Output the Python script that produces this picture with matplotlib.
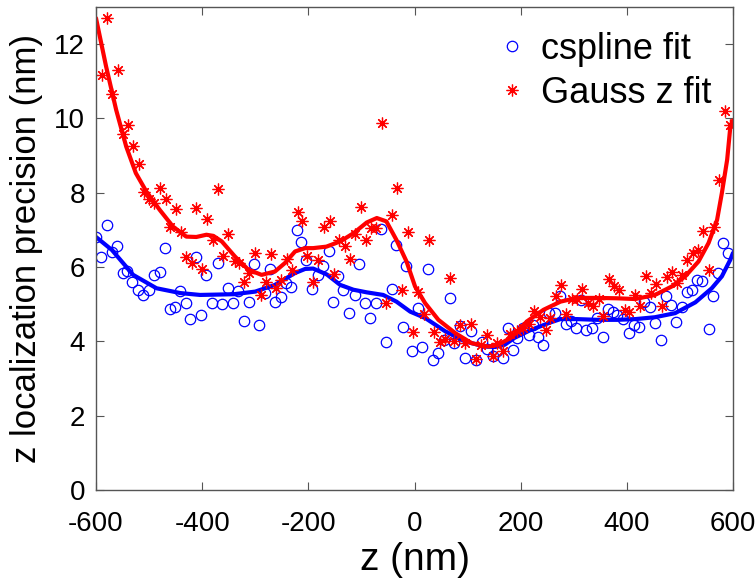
import matplotlib
matplotlib.use("Agg")
import matplotlib.pyplot as plt

plt.rcParams['font.family'] = ['Liberation Sans', 'DejaVu Sans']
plt.rcParams['axes.unicode_minus'] = False

# cspline fit (blue circles)
z_cs = [-600, -591, -580, -570, -560, -550, -541, -532, -520, -511, -500, -491, -479, -470,
        -461, -451, -442, -431, -422, -411, -403, -392, -382, -371, -362, -352, -341, -332,
        -322, -312, -302, -292, -282, -272, -263, -252, -243, -233, -222, -213, -204, -194,
        -181, -173, -162, -153, -144, -134, -123, -113, -104, -93, -83, -73, -63, -54, -43,
        -34, -22, -16, -5, 6, 15, 25, 35, 45, 56, 66, 75, 86, 95, 106, 116, 128, 137, 147,
        156, 166, 176, 185, 194, 205, 215, 224, 233, 243, 254, 265, 274, 285, 295, 304, 314,
        324, 334, 344, 355, 364, 373, 381, 393, 404, 414, 423, 433, 444, 453, 464, 473, 483,
        493, 503, 513, 522, 532, 542, 554, 562, 572, 582, 591]
p_cs = [6.82, 6.28, 7.13, 6.40, 6.58, 5.84, 5.89, 5.61, 5.39, 5.24, 5.39, 5.80, 5.86, 6.51,
        4.88, 4.93, 5.36, 5.02, 4.60, 6.28, 4.70, 5.80, 5.04, 6.10, 5.00, 5.44, 5.02, 5.35,
        4.55, 5.06, 6.07, 4.43, 5.29, 5.95, 5.06, 5.20, 5.57, 5.46, 7.00, 6.67, 6.18, 5.42,
        5.78, 6.04, 6.44, 5.06, 5.75, 5.39, 4.77, 5.24, 6.07, 5.03, 4.62, 5.03, 7.02, 3.97, 5.42,
        6.60, 4.39, 6.02, 3.73, 4.91, 3.86, 5.95, 3.50, 3.70, 4.04, 5.18, 3.95, 4.41, 3.56, 4.29,
        3.50, 3.99, 3.80, 3.60, 3.75, 3.55, 4.37, 3.76, 4.08, 4.35, 4.17, 4.44, 4.13, 3.90, 4.77,
        4.77, 5.21, 4.48, 4.55, 4.37, 5.11, 4.30, 4.37, 4.62, 4.13, 4.86, 4.80, 4.72, 4.59, 4.23,
        4.44, 4.39, 5.06, 4.93, 4.50, 4.04, 5.21, 4.97, 4.53, 4.93, 5.33, 5.39, 5.64, 5.62, 4.32,
        5.21, 5.84, 6.65, 6.37]

# Gauss z fit (red asterisks)
z_gs = [-589, -579, -569, -558, -550, -539, -530, -519, -510, -500, -491, -480, -469, -461,
        -450, -440, -430, -420, -411, -400, -390, -380, -370, -360, -351, -339, -330, -321,
        -311, -300, -289, -280, -270, -260, -251, -241, -231, -220, -211, -202, -192, -181,
        -170, -160, -151, -142, -131, -121, -112, -101, -91, -82, -72, -62, -53, -42, -33,
        -23, -13, -3, 7, 18, 27, 37, 48, 58, 66, 75, 86, 96, 106, 116, 126, 136, 147, 156,
        166, 180, 194, 205, 215, 226, 236, 247, 256, 266, 276, 286, 296, 306, 315, 327, 337,
        347, 356, 366, 375, 385, 396, 405, 415, 425, 436, 446, 455, 466, 475, 485, 494, 503,
        513, 525, 535, 544, 555, 564, 574, 584, 595]
p_gs = [11.17, 12.70, 10.66, 11.31, 9.58, 9.83, 9.26, 8.78, 8.01, 7.83, 7.72, 8.13, 7.83, 7.07,
        7.56, 6.94, 6.27, 6.11, 7.59, 5.96, 7.29, 6.72, 8.11, 6.29, 6.90, 6.17, 6.12, 5.61,
        5.84, 6.39, 5.25, 5.59, 6.36, 5.43, 5.66, 6.21, 5.93, 7.47, 7.23, 6.30, 5.59, 6.18,
        7.08, 7.23, 5.82, 6.73, 6.57, 6.21, 6.90, 7.61, 6.72, 7.05, 7.05, 9.89, 5.03, 7.41, 8.12,
        5.37, 6.94, 4.24, 5.32, 4.75, 6.72, 4.24, 3.97, 4.06, 5.71, 4.00, 4.43, 3.95, 4.46, 3.52,
        3.90, 4.18, 3.62, 3.95, 3.73, 4.21, 4.27, 4.35, 4.46, 4.82, 4.66, 4.30, 4.62, 5.21, 5.52,
        4.73, 5.14, 5.15, 5.40, 5.03, 4.94, 5.14, 4.67, 5.68, 5.50, 5.39, 4.85, 4.80, 5.25, 4.96,
        5.77, 5.30, 5.55, 4.94, 5.73, 5.86, 5.57, 5.79, 6.18, 6.39, 6.46, 6.98, 5.93, 7.09, 8.35,
        10.19, 9.83]

# smooth fitted curves
z_curve_cs = [-600, -570, -530, -486, -441, -404, -370, -340, -300, -263, -225, -206, -191,
              -165, -140, -115, -90, -59, -34, -8, 20, 58, 95, 133, 152, 170, 189, 218, 256,
              275, 306, 344, 381, 416, 453, 491, 529, 560, 579, 595, 600]
p_curve_cs = [6.81, 6.46, 5.79, 5.43, 5.30, 5.25, 5.26, 5.27, 5.34, 5.52, 5.84, 5.95, 5.96,
              5.80, 5.52, 5.39, 5.32, 5.25, 5.07, 4.80, 4.63, 4.27, 4.00, 3.86, 3.85, 3.91,
              4.10, 4.30, 4.51, 4.60, 4.60, 4.58, 4.58, 4.60, 4.65, 4.76, 5.05, 5.43, 5.75,
              6.20, 6.38]
z_curve_gs = [-600, -581, -562, -543, -525, -505, -480, -455, -430, -411, -392, -379, -363,
              -338, -313, -288, -263, -244, -225, -206, -191, -166, -140, -115, -90, -71, -53,
              -34, -15, 1, 20, 45, 77, 108, 139, 158, 183, 212, 243, 275, 306, 344, 381, 416,
              453, 485, 510, 535, 554, 570, 579, 589, 595, 600]
p_curve_gs = [12.70, 11.40, 10.23, 9.24, 8.53, 8.03, 7.54, 7.09, 6.82, 6.81, 6.87, 6.84, 6.69,
              6.28, 5.93, 5.79, 5.88, 6.11, 6.42, 6.51, 6.51, 6.55, 6.69, 6.91, 7.20, 7.32, 7.23,
              6.73, 6.15, 5.48, 5.03, 4.58, 4.22, 3.95, 3.86, 3.91, 4.11, 4.54, 4.85, 5.07, 5.17,
              5.17, 5.16, 5.14, 5.25, 5.48, 5.75, 6.15, 6.65, 7.27, 7.99, 8.89, 9.78, 9.95]

fig = plt.figure(figsize=(7.56, 5.86), dpi=100)
ax = fig.add_axes([96 / 756, 1 - 490 / 586, 637 / 756, 483 / 586])

ax.plot(z_cs, p_cs, linestyle='none', marker='o', markersize=7.5, markerfacecolor='none',
        markeredgecolor=(0, 0, 1), markeredgewidth=0.9, label='cspline fit')
ax.plot(z_curve_cs, p_curve_cs, color=(0, 0, 1), linewidth=3.0, solid_capstyle='round')
ax.plot(z_gs, p_gs, linestyle='none', marker=(8, 2, 0), markersize=8.5,
        markeredgecolor=(1, 0, 0), markeredgewidth=0.9, color=(1, 0, 0), label='Gauss z fit')
ax.plot(z_curve_gs, p_curve_gs, color=(1, 0, 0), linewidth=3.0, solid_capstyle='round')

ax.set_xlim(-600, 600)
ax.set_ylim(0, 13)
ax.set_xticks([-600, -400, -200, 0, 200, 400, 600])
ax.set_yticks([0, 2, 4, 6, 8, 10, 12])
ax.tick_params(direction='in', length=6, width=0.8, colors='#555555', labelcolor='black',
               labelsize=20, top=True, right=True)
ax.tick_params(axis='x', pad=15)
ax.tick_params(axis='y', pad=8)
for s in ax.spines.values():
    s.set_color('#555555')
    s.set_linewidth(1.0)

ax.set_xlabel('z (nm)', fontsize=28, labelpad=4)
ax.set_ylabel('z localization precision (nm)', fontsize=25, labelpad=8)

ax.legend(loc='upper left', bbox_to_anchor=(476 / 756, 1 - 14 / 586),
          bbox_transform=fig.transFigure, frameon=False, fontsize=26,
          handlelength=1.0, handletextpad=0.3, labelspacing=0.25, borderpad=0)

fig.savefig('out.png', dpi=100)
